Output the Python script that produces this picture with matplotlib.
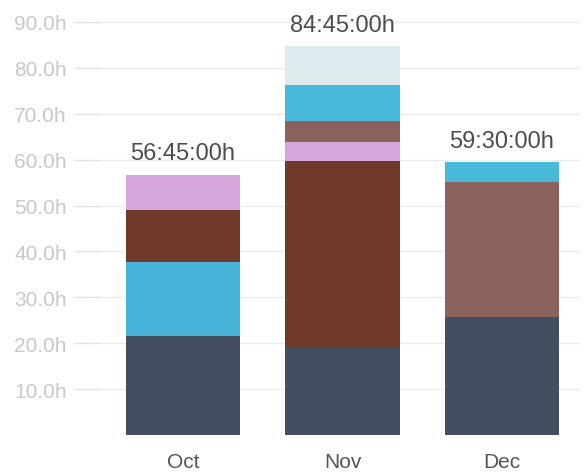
import matplotlib.pyplot as plt
import numpy as np

plt.rcParams["font.family"] = ["Liberation Sans", "DejaVu Sans"]

# Monthly totals (hours) split by activity, bottom to top
months = ["Oct", "Nov", "Dec"]
totals = ["56:45:00h", "84:45:00h", "59:30:00h"]
slate = [21.6, 19.0, 25.7]
brown = [11.3, 40.7, 0.0]
cyan_low = [16.1, 0.0, 0.0]
pink = [7.75, 4.1, 0.0]
mauve = [0.0, 4.6, 29.4]
cyan = [0.0, 7.9, 4.4]
light = [0.0, 8.45, 0.0]

# stacking order per bar matches the picture
series = [
    (slate, "#434e60"),
    (cyan_low, "#47b3d9"),
    (brown, "#6f3a2b"),
    (pink, "#d5a6d9"),
    (mauve, "#8c625d"),
    (cyan, "#47b9d9"),
    (light, "#dfecef"),
]

fig = plt.figure(figsize=(5.87, 4.77), dpi=100)
ax = fig.add_axes([75 / 587, 41 / 477, 505 / 587, 414 / 477])

x = np.arange(len(months))
bottom = np.zeros(len(months))
for vals, col in series:
    vals = np.array(vals)
    ax.bar(x, vals, bottom=bottom, width=0.715, color=col, zorder=2)
    bottom += vals

for xi, top, lab in zip(x, bottom, totals):
    ax.text(xi, top + 3.3, lab, ha="center", va="baseline", fontsize=17,
            color="#4d4d4d", clip_on=False)

ax.set_xlim(-0.677, 2.489)
ax.set_ylim(0, 90.2)
yt = np.arange(10, 91, 10)
ax.set_yticks(yt)
ax.set_yticklabels([f"{v:.1f}h" for v in yt], fontsize=15, color="#c8c8c8")
ax.tick_params(axis="y", length=0, pad=6)
for v in yt:
    ax.axhline(v, color="#ebebeb", lw=1, zorder=1)
    ax.plot([-0.677, -0.52], [v, v], color="#d8d8d8", lw=1, ls=(0, (1, 1.5)),
            zorder=1.5, clip_on=False)

ax.set_xticks(x)
ax.set_xticklabels(months, fontsize=15, color="#555555")
ax.tick_params(axis="x", length=0, pad=12)

for s in ax.spines.values():
    s.set_visible(False)

fig.savefig("out.png", dpi=100)
